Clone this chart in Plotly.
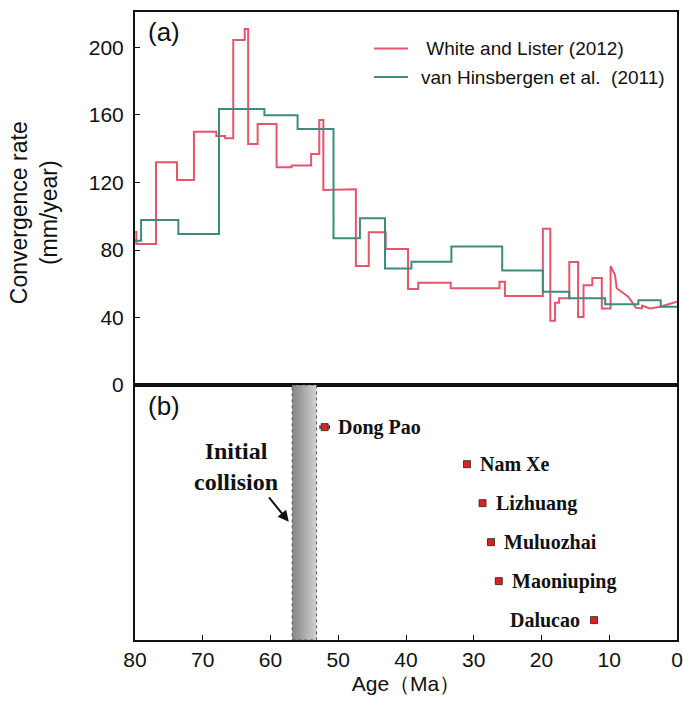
import plotly.graph_objects as go

# ---- Panel (a): convergence rate step curves (start age of each step, rate) ----
wl_step_ages = [80, 79.8, 76.9, 73.8, 71.3, 68.0, 66.7, 65.5, 63.8, 63.3, 61.9, 59.1, 56.9,
                54.0, 52.8, 52.2, 49.6, 47.4, 45.5, 43.0, 39.7, 38.2, 33.4, 26.2, 25.4,
                19.8, 18.7, 18.0, 17.4, 15.9, 14.6, 13.8, 12.5, 11.1]
wl_step_rates = [90.6, 83.5, 132, 121.4, 150, 147.5, 146.2, 204.4, 211, 142.8, 154.7, 129, 130,
                 136.9, 157, 115.6, 116, 70.5, 90.5, 80.6, 56.9, 60.6, 57.3, 61.2, 52.7,
                 92.6, 38.1, 48.8, 51.4, 72.9, 40.3, 59.1, 63.4, 45.4]
wl_tail_ages = [9.8, 9.8, 9.15, 8.9, 7.2, 6.05, 5.2, 5.15, 4.0, 2.5, 0]
wl_tail_rates = [45.4, 70.5, 65.2, 57.3, 52.3, 45.8, 45.4, 47.0, 45.4, 46.4, 49.4]

vh_step_ages = [80, 79.1, 73.6, 67.6, 60.9, 56.0, 50.7, 46.8, 43.1, 39.2, 33.3, 25.8,
                19.8, 15.9, 10.6, 5.7, 2.4]
vh_step_rates = [85.5, 97.8, 89.5, 163.6, 159.8, 151.7, 86.9, 98.8, 69.1, 73.1, 82.0, 67.8,
                 55.3, 51.4, 47.8, 50.2, 46.4]
vh_end_age = 0

# ---- Panel (b): dated localities ----
site_names = ["Dong Pao", "Nam Xe", "Lizhuang", "Muluozhai", "Maoniuping", "Dalucao"]
site_ages = [52.0, 31.0, 28.7, 27.45, 26.3, 12.25]
site_errors = [0.7, 0.4, 0.3, 0.4, 0.4, 0.3]
site_rank = [5.95, 5, 4, 3, 2, 1]
collision_start, collision_end = 56.8, 53.2

x_ticks = [80, 70, 60, 50, 40, 30, 20, 10, 0]
y_ticks = [0, 40, 80, 120, 160, 200]

RED = "#e4566c"
GREEN = "#3d8b7b"
TXT = "#111111"
SANS = "Liberation Sans"
SERIF = "Liberation Serif"


def step_vertices(ages, rates, end_age=None):
    xs, ys = [], []
    for i, (a, r) in enumerate(zip(ages, rates)):
        xs.append(a)
        ys.append(r)
        nxt = ages[i + 1] if i + 1 < len(ages) else end_age
        if nxt is not None:
            xs.append(nxt)
            ys.append(r)
    return xs, ys


wx, wy = step_vertices(wl_step_ages, wl_step_rates, wl_tail_ages[0])
wx += wl_tail_ages[1:]
wy += wl_tail_rates[1:]
vx, vy = step_vertices(vh_step_ages, vh_step_rates, vh_end_age)

fig = go.Figure()
fig.add_trace(go.Scatter(x=wx, y=wy, mode="lines", line=dict(color=RED, width=2),
                         xaxis="x", yaxis="y", showlegend=False, hoverinfo="skip"))
fig.add_trace(go.Scatter(x=vx, y=vy, mode="lines", line=dict(color=GREEN, width=2),
                         xaxis="x", yaxis="y", showlegend=False, hoverinfo="skip"))

# Panel (b)
Y2_RANGE = [0.49, 7.03]
fig.add_trace(go.Scatter(
    x=[collision_start, collision_end, collision_end, collision_start, collision_start],
    y=[Y2_RANGE[0], Y2_RANGE[0], Y2_RANGE[1], Y2_RANGE[1], Y2_RANGE[0]],
    mode="lines", fill="toself",
    fillgradient=dict(type="horizontal",
                      colorscale=[[0, "#858585"], [1, "#d0d0d0"]]),
    line=dict(color="#555555", width=1, dash="dot"),
    xaxis="x2", yaxis="y2", showlegend=False, hoverinfo="skip"))

fig.add_trace(go.Scatter(
    x=site_ages, y=site_rank, mode="markers",
    marker=dict(symbol="square", size=7, color="#dd2222",
                line=dict(color="#222222", width=0.8)),
    error_x=dict(type="data", array=site_errors, color="#222222", thickness=1, width=2),
    xaxis="x2", yaxis="y2", showlegend=False, hoverinfo="skip"))

annotations = []
label_font = dict(family=SERIF, size=20, color=TXT)
for name, age, rank in zip(site_names, site_ages, site_rank):
    if name == "Dalucao":
        annotations.append(dict(x=age, y=rank, xref="x2", yref="y2", text="<b>%s</b>" % name,
                                showarrow=False, xanchor="right", xshift=-12, font=label_font))
    else:
        annotations.append(dict(x=age, y=rank, xref="x2", yref="y2", text="<b>%s</b>" % name,
                                showarrow=False, xanchor="left", xshift=11, font=label_font))

annotations.append(dict(x=65.1, y=4.95, xref="x2", yref="y2", xanchor="center",
                        yanchor="middle",
                        text="<b>Initial<br>collision</b>", showarrow=False,
                        font=dict(family=SERIF, size=24, color=TXT)))
annotations.append(dict(x=57.3, y=3.52, xref="x2", yref="y2", text="", showarrow=True,
                        ax=-21, ay=-26, arrowhead=2, arrowsize=1.1, arrowwidth=2,
                        arrowcolor=TXT))

annotations.append(dict(x=0.02, y=0.995, xref="paper", yref="paper", text="(a)",
                        showarrow=False, xanchor="left", yanchor="top",
                        font=dict(family=SANS, size=26, color=TXT)))
annotations.append(dict(x=0.02, y=0.4, xref="paper", yref="paper", text="(b)",
                        showarrow=False, xanchor="left", yanchor="top",
                        font=dict(family=SANS, size=26, color=TXT)))

annotations.append(dict(x=-0.186, y=0.68, xref="paper", yref="paper",
                        xanchor="center", yanchor="middle",
                        text="Convergence rate<br>(mm/year)", textangle=-90,
                        showarrow=False,
                        font=dict(family=SANS, size=23, color=TXT)))

# Legend (manual)
legend_items = [(" White and Lister (2012)", RED), ("van Hinsbergen et al.  (2011)", GREEN)]
shapes = []
for i, (txt, col) in enumerate(legend_items):
    yp = 1 - (36.5 + 28.5 * i) / 628
    shapes.append(dict(type="line", xref="paper", yref="paper",
                       x0=(374 - 135) / 542, x1=(408 - 135) / 542, y0=yp, y1=yp,
                       line=dict(color=col, width=2)))
    annotations.append(dict(x=(419 - 135) / 542, y=yp, xref="paper", yref="paper",
                            text=txt, showarrow=False, xanchor="left", yanchor="middle",
                            font=dict(family=SANS, size=19, color=TXT)))

axis_common = dict(showline=True, linecolor=TXT, linewidth=2, mirror=True,
                   showgrid=False, zeroline=False, tickcolor=TXT,
                   ticklen=5, tickwidth=1, automargin=False)
tick_font = dict(family=SANS, size=21, color=TXT)

fig.update_layout(
    width=683, height=701,
    margin=dict(l=135, r=6, t=12, b=61),
    paper_bgcolor="white", plot_bgcolor="white",
    xaxis=dict(range=[80, 0], domain=[0, 1], anchor="y", showticklabels=False,
               ticks="", **axis_common),
    yaxis=dict(range=[0, 221], domain=[0.406, 1], anchor="x", tickvals=y_ticks,
               ticks="inside", tickfont=tick_font, ticklabeloverflow="allow",
               ticklabelstandoff=5, **axis_common),
    xaxis2=dict(range=[80, 0], domain=[0, 1], anchor="y2", tickvals=x_ticks,
                ticks="inside", tickfont=tick_font, ticklabeloverflow="allow",
                title=dict(text="Age（Ma）", standoff=6,
                           font=dict(family=SANS, size=21, color=TXT)),
                **axis_common),
    yaxis2=dict(range=Y2_RANGE, domain=[0, 0.406], anchor="x2", showticklabels=False,
                ticks="", **axis_common),
    annotations=annotations,
    shapes=shapes,
)

fig.write_html("out.html",
               config={"displayModeBar": False},
               post_script="document.body.style.margin='0';"
                           "document.body.style.overflow='hidden';")
